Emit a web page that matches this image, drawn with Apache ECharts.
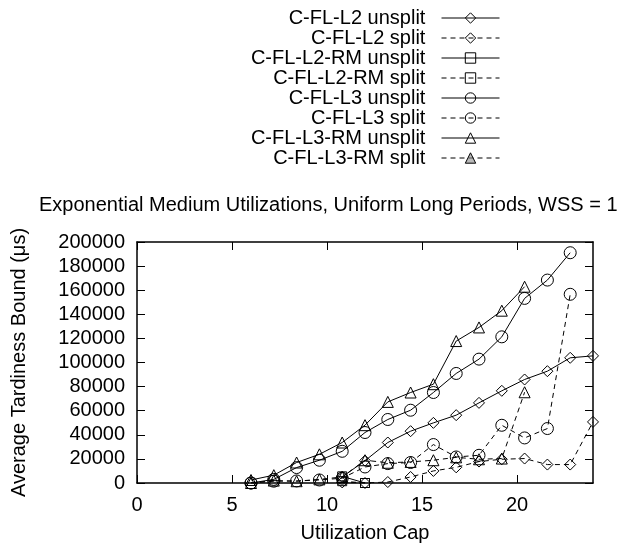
<!DOCTYPE html>
<html>
<head>
<meta charset="utf-8">
<script src="https://cdn.jsdelivr.net/npm/echarts@6/dist/echarts.min.js"></script>
<style>
html,body{margin:0;padding:0;background:#fff;}
#chart{width:631px;height:546px;}
</style>
</head>
<body>
<div id="chart"></div>
<script>
const xValues = [6, 7.2, 8.4, 9.6, 10.8, 12, 13.2, 14.4, 15.6, 16.8, 18, 19.2, 20.4, 21.6, 22.8, 24];

const seriesNames = [
  'C-FL-L2 unsplit', 'C-FL-L2 split',
  'C-FL-L2-RM unsplit', 'C-FL-L2-RM split',
  'C-FL-L3 unsplit', 'C-FL-L3 split',
  'C-FL-L3-RM unsplit', 'C-FL-L3-RM split'
];

const l2Unsplit   = [null, null, null, null, 5000, 18500, 33600, 43000, 49900, 56300, 66500, 76500, 85900, 92800, 103900, 105500];
const l2Split     = [null, null, null, null, 500, 0, 800, 5000, 10000, 13000, 17800, 19700, 20300, 15300, 15300, 50700];
const l2rmUnsplit = [null, null, null, null, 5500, 0, null, null, null, null, null, null, null, null, null, null];
const l2rmSplit   = [null, null, null, null, 1500, 0, null, null, null, null, null, null, null, null, null, null];
const l3Unsplit   = [0, 3000, 12800, 18900, 26300, 41900, 52700, 60400, 75100, 90900, 102800, 121300, 153200, 168400, 191100, null];
const l3Split     = [0, 1500, 1700, 2500, 4000, 13300, 16100, 17000, 31900, 21600, 23000, 47900, 37400, 45200, 156600, null];
const l3rmUnsplit = [2500, 6500, 17000, 23800, 33600, 48000, 67300, 75100, 82000, 117800, 129100, 143000, 162900, null, null, null];
const l3rmSplit   = [0, 2000, 1500, 3000, 5000, 18900, 16800, 17500, 18900, 21300, 19700, 20300, 75300, null, null, null];

const xTicks = [0, 5, 10, 15, 20];
const yTicks = [0, 20000, 40000, 60000, 80000, 100000, 120000, 140000, 160000, 180000, 200000];

const seriesValues = [l2Unsplit, l2Split, l2rmUnsplit, l2rmSplit, l3Unsplit, l3Split, l3rmUnsplit, l3rmSplit];
const symbols = ['diamond', 'diamond', 'rect', 'rect', 'circle', 'circle', 'triangle', 'triangle'];
const symbolSizes = [11, 11, 9, 9, 12, 12, 11, 11];
const dashed = [false, true, false, true, false, true, false, true];

function toPairs(vals) {
  const out = [];
  vals.forEach((v, i) => { if (v !== null) out.push([xValues[i], v]); });
  return out;
}

const FONT = 'Liberation Sans, Arial, Helvetica, sans-serif';
const FS = 20;
const legendFills = seriesNames.map((n, k) => k === 7 ? 'rgba(140,140,140,0.6)' : 'rgba(255,255,255,0)');

const series = seriesNames.map((name, k) => ({
  name: name,
  type: 'line',
  xAxisIndex: 0,
  yAxisIndex: 0,
  data: toPairs(seriesValues[k]),
  symbol: symbols[k],
  symbolSize: symbolSizes[k],
  showAllSymbol: true,
  animation: false,
  color: '#000',
  lineStyle: { color: '#000', width: 1, type: dashed[k] ? [5, 4] : 'solid' },
  itemStyle: { color: 'rgba(255,255,255,0)', borderColor: '#000', borderWidth: 1 },
  emphasis: { disabled: true },
  z: 2 + k
}));

const axisCommon = {
  axisLine: { show: true, onZero: false, lineStyle: { color: '#000', width: 1.5 } },
  axisTick: { show: true, inside: true, length: 8, lineStyle: { color: '#000', width: 1 } },
  splitLine: { show: false }
};

const option = {
  animation: false,
  backgroundColor: '#fff',
  title: {
    text: 'Exponential Medium Utilizations, Uniform Long Periods, WSS = 1',
    left: 39, top: 195, padding: 0,
    textStyle: { fontFamily: FONT, fontSize: FS, fontWeight: 'normal', color: '#000' }
  },
  legend: {
    orient: 'vertical',
    right: 126, top: 3,
    align: 'right',
    itemWidth: 58, itemHeight: 13,
    itemGap: 0,
    formatter: n => n + '  ',
    textStyle: { fontFamily: FONT, fontSize: FS, color: '#000', lineHeight: 20 },
    data: seriesNames.map((n, k) => ({
      name: n,
      itemStyle: { color: legendFills[k], borderColor: '#000', borderWidth: 1 },
      lineStyle: { color: '#000', width: 1, type: dashed[k] ? [5, 4] : 'solid' }
    }))
  },
  grid: { left: 137, right: 38, top: 242, bottom: 63, containLabel: false },
  xAxis: [
    Object.assign({}, axisCommon, {
      type: 'value', min: 0, max: 24, interval: 5, position: 'bottom',
      name: 'Utilization Cap', nameLocation: 'middle', nameGap: 40,
      nameTextStyle: { fontFamily: FONT, fontSize: FS, color: '#000' },
      axisLabel: { fontFamily: FONT, fontSize: FS, color: '#000', margin: 12,
        customValues: xTicks, formatter: v => String(v) },
      axisTick: Object.assign({}, axisCommon.axisTick, { customValues: xTicks })
    }),
    Object.assign({}, axisCommon, {
      type: 'value', min: 0, max: 24, interval: 5, position: 'top',
      axisLabel: { show: false },
      axisTick: Object.assign({}, axisCommon.axisTick, { customValues: xTicks })
    })
  ],
  yAxis: [
    Object.assign({}, axisCommon, {
      type: 'value', min: 0, max: 200000, interval: 20000, position: 'left',
      name: 'Average Tardiness Bound (μs)', nameLocation: 'middle', nameGap: 108,
      nameTextStyle: { fontFamily: FONT, fontSize: FS, color: '#000' },
      axisLabel: { fontFamily: FONT, fontSize: FS, color: '#000', margin: 12,
        customValues: yTicks, formatter: v => String(v) },
      axisTick: Object.assign({}, axisCommon.axisTick, { customValues: yTicks })
    }),
    Object.assign({}, axisCommon, {
      type: 'value', min: 0, max: 200000, interval: 20000, position: 'right',
      axisLabel: { show: false },
      axisTick: Object.assign({}, axisCommon.axisTick, { customValues: yTicks })
    })
  ],
  series: series
};

const chart = echarts.init(document.getElementById('chart'), null, { renderer: 'canvas' });
chart.setOption(option);
</script>
</body>
</html>
